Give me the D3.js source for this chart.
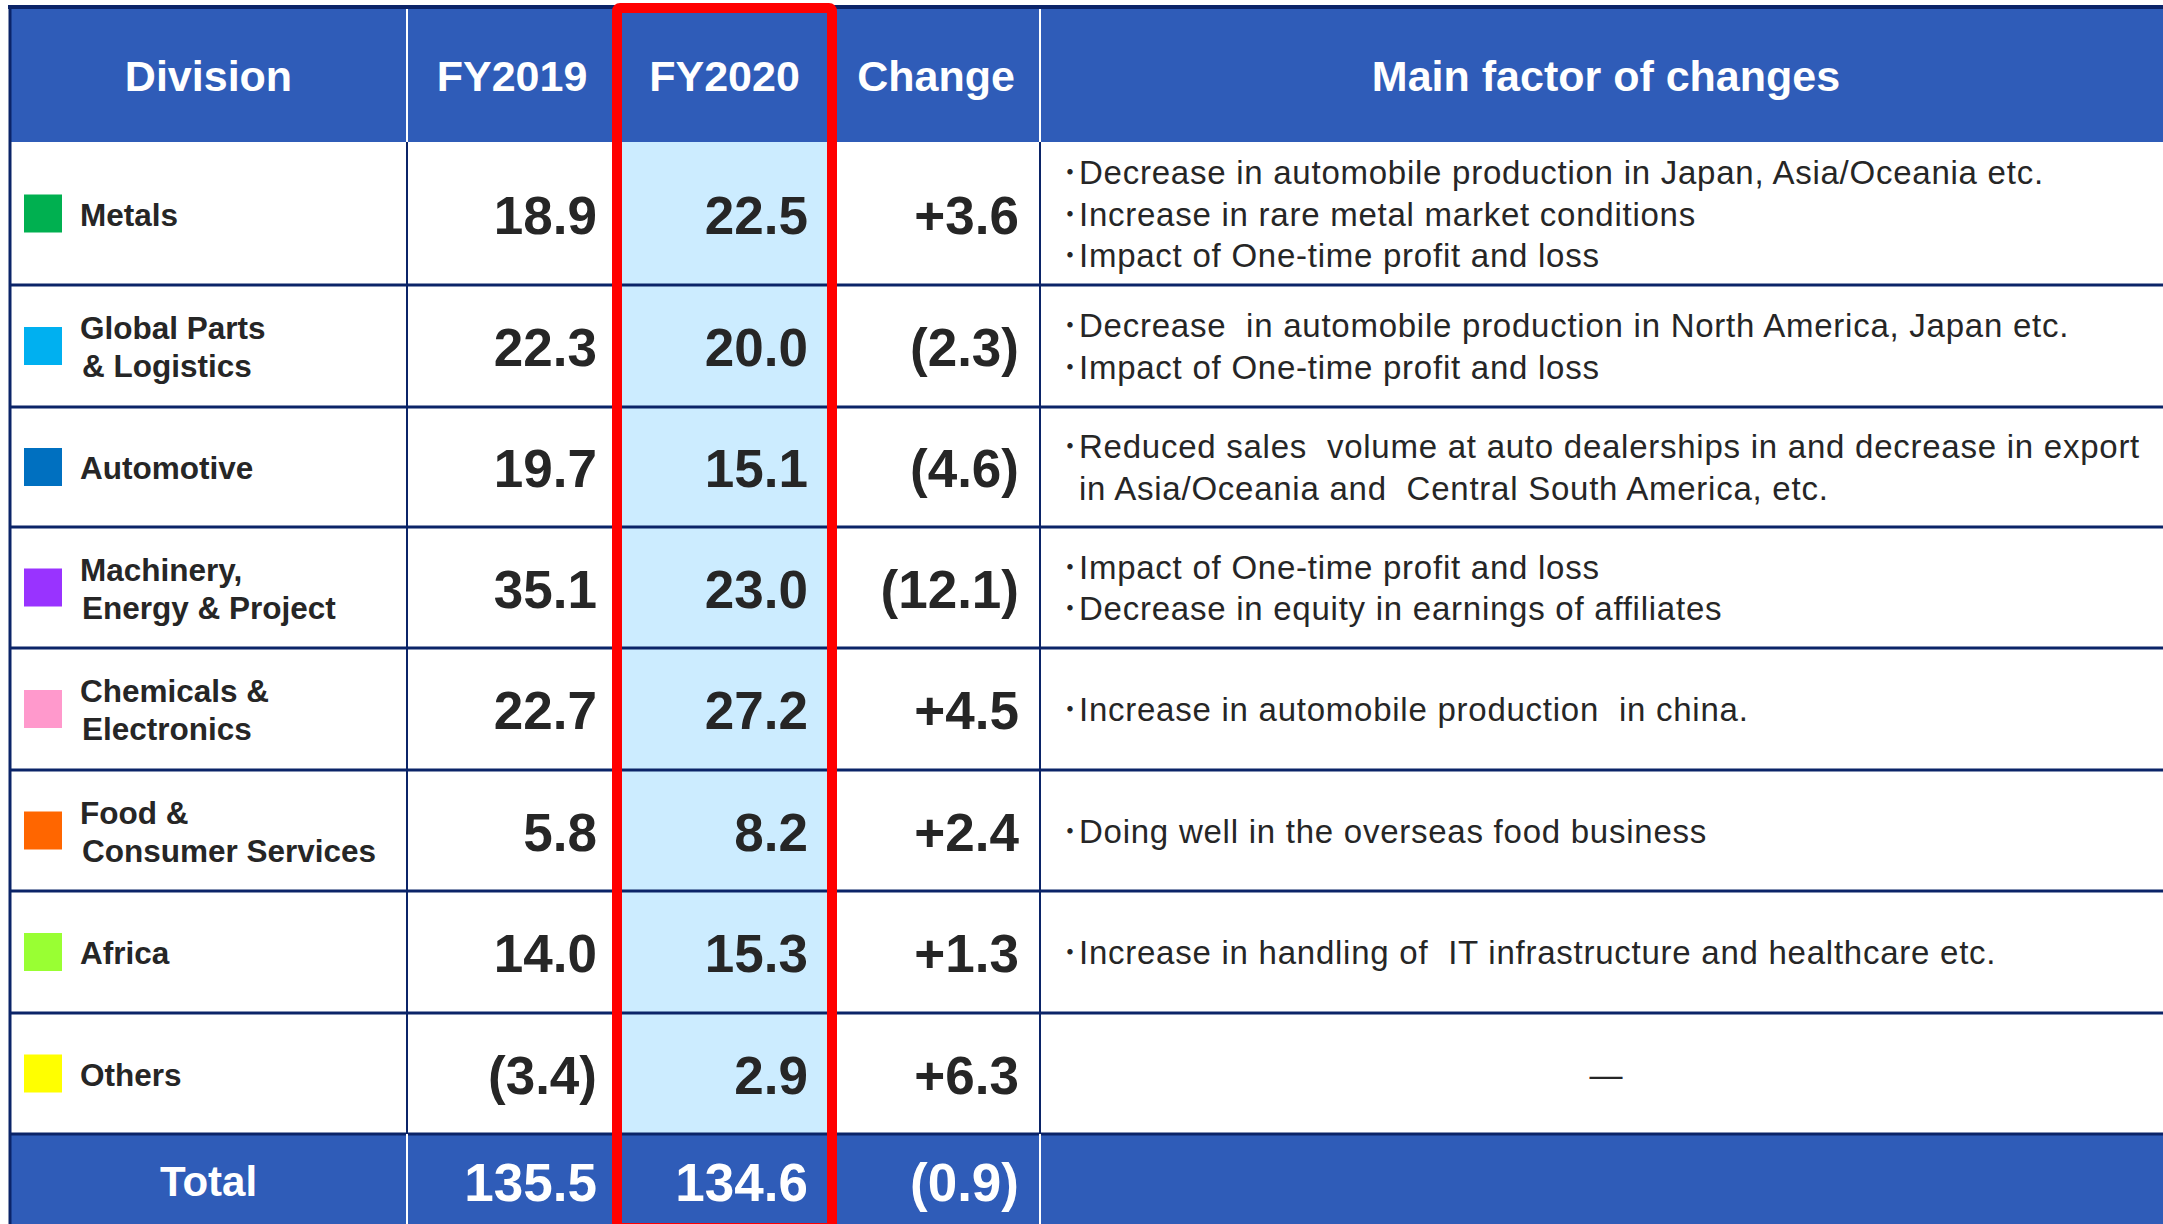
<!DOCTYPE html>
<html>
<head>
<meta charset="utf-8">
<script src="https://cdn.jsdelivr.net/npm/d3@7"></script>
<style>
  body { margin: 0; background: #fff; }
  text { font-family: "Liberation Sans", Arial, sans-serif; }
</style>
</head>
<body>
<div id="myChart"></div>
<script>
// Table data
let headers = ["Division", "FY2019", "FY2020", "Change", "Main factor of changes"];

let divisionLines = [
  ["Metals"],
  ["Global Parts", "& Logistics"],
  ["Automotive"],
  ["Machinery,", "Energy & Project"],
  ["Chemicals &", "Electronics"],
  ["Food &", "Consumer Services"],
  ["Africa"],
  ["Others"],
];

let divisionColors = ["#00B050", "#00B0F0", "#0070C0", "#9933FF", "#FF99CC", "#FF6600", "#99FF33", "#FFFF00"];

let fy2019 = [18.9, 22.3, 19.7, 35.1, 22.7, 5.8, 14.0, -3.4];
let fy2020 = [22.5, 20.0, 15.1, 23.0, 27.2, 8.2, 15.3, 2.9];
let change = [3.6, -2.3, -4.6, -12.1, 4.5, 2.4, 1.3, 6.3];

let totalLabel = "Total";
let totals = [135.5, 134.6, -0.9];

let factors = [
  ["Decrease in automobile production in Japan, Asia/Oceania etc.",
   "Increase in rare metal market conditions",
   "Impact of One-time profit and loss"],
  ["Decrease  in automobile production in North America, Japan etc.",
   "Impact of One-time profit and loss"],
  ["Reduced sales  volume at auto dealerships in and decrease in export",
   "+in Asia/Oceania and  Central South America, etc."],
  ["Impact of One-time profit and loss",
   "Decrease in equity in earnings of affiliates"],
  ["Increase in automobile production  in china."],
  ["Doing well in the overseas food business"],
  ["Increase in handling of  IT infrastructure and healthcare etc."],
  [],
];

// Layout
let width = 2163, height = 1224;
let blue = "#2F5CB8", navy = "#0B2468", ink = "#262626";

let colEdges = [10, 407, 617, 832, 1040, 2172];
let rowHeights = [135, 143, 122, 120, 121, 122, 121, 122, 121, 92];
let rowEdges = [7];
rowHeights.forEach((h) => rowEdges.push(rowEdges[rowEdges.length - 1] + h));

let x = d3.scaleOrdinal().domain(d3.range(colEdges.length)).range(colEdges);
let y = d3.scaleOrdinal().domain(d3.range(rowEdges.length)).range(rowEdges);
let rowMid = (i) => (y(i) + y(i + 1)) / 2;
let colMid = (j) => (x(j) + x(j + 1)) / 2;

let fmt = d3.format(".1f");
let fmtVal = (v) => (v < 0 ? `(${fmt(-v)})` : fmt(v));
let fmtChg = (v) => (v < 0 ? `(${fmt(-v)})` : "+" + fmt(v));

let svg = d3
  .select("#myChart")
  .append("svg")
  .attr("width", width)
  .attr("height", height);

let nBody = divisionLines.length;
let totalRow = nBody + 1;

// Header and total backgrounds
svg.append("rect")
  .attr("x", x(0)).attr("y", y(0))
  .attr("width", x(5) - x(0)).attr("height", y(1) - y(0))
  .attr("fill", blue);

svg.append("rect")
  .attr("x", x(0)).attr("y", y(totalRow))
  .attr("width", x(5) - x(0)).attr("height", y(totalRow + 1) - y(totalRow))
  .attr("fill", blue);

// Highlighted FY2020 column
svg.append("rect")
  .attr("x", x(2)).attr("y", y(1))
  .attr("width", x(3) - x(2)).attr("height", y(totalRow) - y(1))
  .attr("fill", "#CCECFF");

// Horizontal row lines
svg.selectAll(".hline")
  .data(d3.range(2, totalRow + 1))
  .enter()
  .append("line")
  .attr("x1", x(0)).attr("x2", x(5))
  .attr("y1", (d) => y(d)).attr("y2", (d) => y(d))
  .attr("stroke", navy)
  .attr("stroke-width", 3);

// Vertical column lines (navy in body, white in header/total)
[1, 2, 3, 4].forEach((j) => {
  svg.append("line")
    .attr("x1", x(j)).attr("x2", x(j))
    .attr("y1", y(1)).attr("y2", y(totalRow))
    .attr("stroke", navy).attr("stroke-width", 2);
  [[0, 1], [totalRow, totalRow + 1]].forEach(([a, b]) => {
    svg.append("line")
      .attr("x1", x(j)).attr("x2", x(j))
      .attr("y1", y(a)).attr("y2", y(b))
      .attr("stroke", "#fff").attr("stroke-width", 2);
  });
});

// Outer border (top and left)
svg.append("line")
  .attr("x1", x(0) - 2).attr("x2", x(5))
  .attr("y1", y(0)).attr("y2", y(0))
  .attr("stroke", navy).attr("stroke-width", 4);
svg.append("line")
  .attr("x1", x(0)).attr("x2", x(0))
  .attr("y1", y(0)).attr("y2", height)
  .attr("stroke", navy).attr("stroke-width", 3);

// Header labels
svg.selectAll(".head")
  .data(headers)
  .enter()
  .append("text")
  .attr("x", (d, j) => colMid(j))
  .attr("y", rowMid(0) + 16)
  .attr("text-anchor", "middle")
  .attr("fill", "#fff")
  .style("font-weight", "bold")
  .style("font-size", "43px")
  .text((d) => d);

// Division swatches and names
svg.selectAll(".swatch")
  .data(divisionColors)
  .enter()
  .append("rect")
  .attr("x", 24)
  .attr("y", (d, i) => rowMid(i + 1) - 19)
  .attr("width", 38).attr("height", 38)
  .attr("fill", (d) => d);

svg.selectAll(".division")
  .data(divisionLines)
  .enter()
  .append("text")
  .attr("fill", ink)
  .style("font-weight", "bold")
  .style("font-size", "31.5px")
  .each(function (lines, i) {
    let base = lines.length === 1 ? rowMid(i + 1) + 12 : rowMid(i + 1) - 7;
    d3.select(this)
      .selectAll("tspan")
      .data(lines)
      .enter()
      .append("tspan")
      .attr("x", (d, k) => (k === 0 ? 80 : 82))
      .attr("y", (d, k) => base + k * 38)
      .text((d) => d);
  });

// Number columns
let numCols = [
  { col: 1, vals: fy2019, f: fmtVal, right: 597 },
  { col: 2, vals: fy2020, f: fmtVal, right: 808 },
  { col: 3, vals: change, f: fmtChg, right: 1019 },
];

numCols.forEach((c, ci) => {
  svg.selectAll(".num" + c.col)
    .data(c.vals)
    .enter()
    .append("text")
    .attr("x", c.right)
    .attr("y", (d, i) => rowMid(i + 1) + 20)
    .attr("text-anchor", "end")
    .attr("fill", ink)
    .style("font-weight", "bold")
    .style("font-size", "53px")
    .text((d) => c.f(d));

  // total row
  svg.append("text")
    .attr("x", c.right)
    .attr("y", rowMid(totalRow) + 21)
    .attr("text-anchor", "end")
    .attr("fill", "#fff")
    .style("font-weight", "bold")
    .style("font-size", "53px")
    .text(c.f(totals[ci]));
});

svg.append("text")
  .attr("x", colMid(0))
  .attr("y", rowMid(totalRow) + 16)
  .attr("text-anchor", "middle")
  .attr("fill", "#fff")
  .style("font-weight", "bold")
  .style("font-size", "42px")
  .text(totalLabel);

// Main factor text
svg.selectAll(".factor")
  .data(factors)
  .enter()
  .append("text")
  .attr("fill", ink)
  .style("font-size", "33px")
  .style("white-space", "pre")
  .each(function (lines, i) {
    let g = d3.select(this);
    if (lines.length === 0) {
      g.append("tspan")
        .attr("x", colMid(4))
        .attr("y", rowMid(i + 1) + 12)
        .attr("text-anchor", "middle")
        .text("\u2014");
      return;
    }
    lines.forEach((line, k) => {
      let yy = rowMid(i + 1) + 12 + (k - (lines.length - 1) / 2) * 41.5;
      if (line.startsWith("+")) {
        // continuation line, no bullet
        g.append("tspan").attr("x", 1079).attr("y", yy)
          .style("letter-spacing", "0.75px")
          .text(line.slice(1));
      } else {
        g.append("tspan")
          .attr("x", 1062).attr("y", yy)
          .style("font-family", "'Noto Sans CJK JP'")
          .style("font-size", "32px")
          .text("\uFF65");
        g.append("tspan").attr("x", 1079).attr("y", yy)
          .style("letter-spacing", "0.75px")
          .text(line);
      }
    });
  });

// Red highlight box around FY2020
svg.append("rect")
  .attr("x", x(2)).attr("y", 8)
  .attr("width", x(3) - x(2))
  .attr("height", height + 4 - 8)
  .attr("rx", 3)
  .attr("fill", "none")
  .attr("stroke", "#FF0000")
  .attr("stroke-width", 10);
</script>
</body>
</html>
